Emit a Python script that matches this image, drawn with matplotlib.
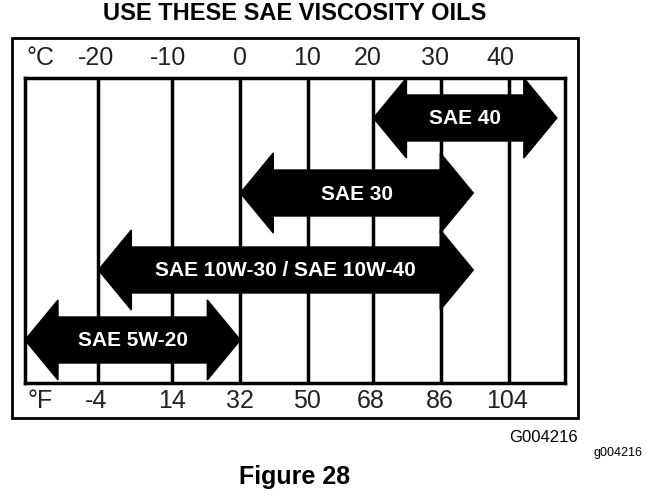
import matplotlib.pyplot as plt
from matplotlib.patches import Polygon, Rectangle
import matplotlib.transforms as mtransforms

plt.rcParams['font.family'] = ['Liberation Sans', 'DejaVu Sans']

# oil grades: (label, start °C, end °C, row centre in px)
grades = ["SAE 40", "SAE 30", "SAE 10W-30 / SAE 10W-40", "SAE 5W-20"]
starts = [19.6, 0, -20.9, -31.7]
ends = [46.6, 34.3, 34.3, 0]
rows = [118, 193, 270, 340]

celsius = [-20, -10, 0, 10, 20, 30, 40]
fahrenheit = [-4, 14, 32, 50, 68, 86, 104]
line_pos = [-20.9, -10, 0, 9.9, 19.6, 29.6, 39.5]
c_label_pos = [-21.3, -10.6, 0, 9.8, 18.8, 28.6, 38.3]
f_label_pos = [-21.3, -10, 0, 9.8, 19.2, 29.3, 39.3]

W, H = 652, 500
fig = plt.figure(figsize=(W / 100, H / 100), dpi=100)
ax = fig.add_axes([25 / W, (H - 383) / H, 540 / W, 305 / H])
ax.set_xlim(-31.7, 47.8)
ax.set_ylim(383, 78)
ax.set_xticks([])
ax.set_yticks([])
for s in ax.spines.values():
    s.set_linewidth(2.5)

for c in line_pos:
    ax.axvline(c, color='black', lw=2.5, zorder=1)

px = 540 / 79.5  # pixels per °C
head = 33 / px
for label, a, b, y in zip(grades, starts, ends, rows):
    pts = [(a, y), (a + head, y - 40), (a + head, y - 23), (b - head, y - 23),
           (b - head, y - 40), (b, y), (b - head, y + 40), (b - head, y + 23),
           (a + head, y + 23), (a + head, y + 40)]
    ax.add_patch(Polygon(pts, closed=True, color='black', zorder=3, clip_on=False))
    ax.text((a + b) / 2, y + 1, label, color='white', fontsize=15, fontweight='bold',
            ha='center', va='center', zorder=4)

top = mtransforms.blended_transform_factory(ax.transData, fig.transFigure)
for v, x in zip(celsius, c_label_pos):
    fig.text(x, 1 - 58 / H, str(v), transform=top, ha='center', va='center', fontsize=18, color='#222')
for v, x in zip(fahrenheit, f_label_pos):
    fig.text(x, 1 - 401 / H, str(v), transform=top, ha='center', va='center', fontsize=18, color='#222')
fig.text(40 / W, 1 - 58 / H, "°C", ha='center', va='center', fontsize=18, color='#222')
fig.text(40 / W, 1 - 401 / H, "°F", ha='center', va='center', fontsize=18, color='#222')

fig.patches.append(Rectangle((12 / W, 1 - 418 / H), 566 / W, 380 / H, fill=False, lw=2,
                             edgecolor='black', transform=fig.transFigure))

fig.text(295 / W, 1 - 14 / H, "USE THESE SAE VISCOSITY OILS", ha='center', va='center',
         fontsize=17, fontweight='bold')
fig.text(578 / W, 1 - 437 / H, "G004216", ha='right', va='center', fontsize=12)
fig.text(643 / W, 1 - 453 / H, "g004216", ha='right', va='center', fontsize=9)
fig.text(295 / W, 1 - 477 / H, "Figure 28", ha='center', va='center', fontsize=18, fontweight='bold')

fig.savefig("out.png", dpi=100)
